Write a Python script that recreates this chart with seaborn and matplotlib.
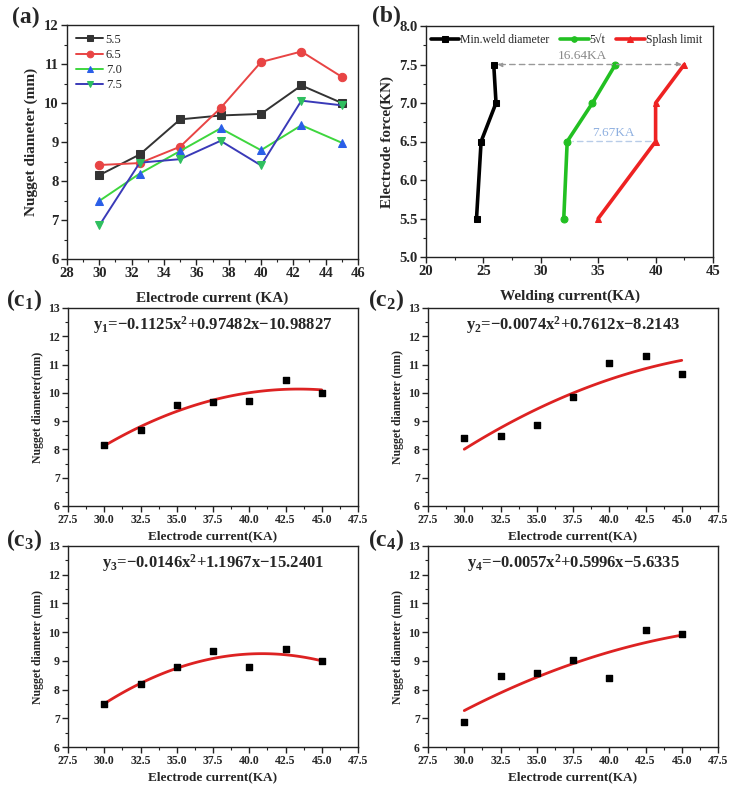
import numpy as np
import pandas as pd
import matplotlib
matplotlib.use('Agg')
import matplotlib.pyplot as plt
from matplotlib.ticker import MultipleLocator, FormatStrFormatter
import seaborn as sns

# Panel (a) / (c): nugget diameter vs electrode current for each electrode force
current = [30, 32.5, 35, 37.5, 40, 42.5, 45]
force_labels = ['5.5', '6.5', '7.0', '7.5']
d_55 = [8.15, 8.68, 9.58, 9.68, 9.72, 10.45, 10.00]
d_65 = [8.41, 8.46, 8.88, 9.87, 11.05, 11.32, 10.67]
d_70 = [7.49, 8.19, 8.77, 9.35, 8.79, 9.43, 8.98]
d_75 = [6.86, 8.47, 8.56, 9.03, 8.40, 10.06, 9.94]

# Panel (b): weldability lobe
force_b = [5.5, 6.5, 7.0, 7.5]
min_weld = [24.4, 24.8, 26.1, 25.9]
five_sqrt_t = [32.0, 32.3, 34.5, 36.5]
splash = [35.0, 40.0, 40.0, 42.5]

equations = [
    r'y$_{1}$=−0.1125x$^{2}$+0.97482x−10.98827',
    r'y$_{2}$=−0.0074x$^{2}$+0.7612x−8.2143',
    r'y$_{3}$=−0.0146x$^{2}$+1.1967x−15.2401',
    r'y$_{4}$=−0.0057x$^{2}$+0.5996x−5.6335',
]
c_ylabels = ['Nugget diameter(mm)', 'Nugget diameter (mm)',
             'Nugget diameter (mm)', 'Nugget diameter (mm)']

sns.set_theme(style='ticks')
plt.rcParams['font.family'] = ['Liberation Serif', 'DejaVu Serif']
plt.rcParams['mathtext.fontset'] = 'custom'
plt.rcParams['mathtext.rm'] = 'Liberation Serif:bold'
plt.rcParams['mathtext.it'] = 'Liberation Serif:bold'
plt.rcParams['mathtext.bf'] = 'Liberation Serif:bold'
plt.rcParams['axes.edgecolor'] = '#222222'
plt.rcParams['axes.linewidth'] = 1.0

W, H = 731, 791
fig = plt.figure(figsize=(W / 100, H / 100), dpi=100)
fig.patch.set_facecolor('white')


def box(l, t, r, b):
    return [l / W, 1 - b / H, (r - l) / W, (b - t) / H]


def style_ticks(ax, size=9.5):
    ax.tick_params(which='major', direction='out', length=4, width=1,
                   labelsize=size, color='#222222', pad=2)
    ax.tick_params(which='minor', direction='out', length=2, width=0.8, color='#222222')
    for lab in ax.get_xticklabels() + ax.get_yticklabels():
        lab.set_fontweight('bold')


# ---- (a) ----
ax = fig.add_axes(box(67, 25, 358, 259))
series = [
    (d_55, '#333333', 's', '#333333'),
    (d_65, '#e84444', 'o', '#e84444'),
    (d_70, '#3ed63e', '^', '#2a5ee8'),
    (d_75, '#3a3ab8', 'v', '#2fbf5f'),
]
for lab, (vals, lc, mk, mc) in zip(force_labels, series):
    df = pd.DataFrame({'x': current, 'y': vals})
    sns.lineplot(data=df, x='x', y='y', ax=ax, color=lc, marker=mk,
                 markersize=6, markerfacecolor=mc, markeredgecolor=mc,
                 linewidth=1.4, label=lab)
ax.set_xlim(28, 46)
ax.set_ylim(6, 12)
ax.xaxis.set_major_locator(MultipleLocator(2))
ax.xaxis.set_minor_locator(MultipleLocator(1))
ax.yaxis.set_major_locator(MultipleLocator(1))
ax.yaxis.set_minor_locator(MultipleLocator(0.5))
ax.set_xlabel('Electrode current (KA)', fontsize=11, fontweight='bold', labelpad=8)
ax.set_ylabel('Nugget diameter (mm)', fontsize=11, fontweight='bold', labelpad=4)
style_ticks(ax, 10.5)
ax.legend(loc='upper left', frameon=False, fontsize=9, handlelength=2.2,
          labelspacing=0.25, handletextpad=0.2, borderaxespad=0.3, markerscale=0.8)
fig.text(12 / W, 1 - 17 / H, '(a)', fontsize=17, fontweight='bold', va='center')

# ---- (b) ----
ax = fig.add_axes(box(426, 26, 713, 257))
b_series = [
    ('Min.weld diameter', min_weld, 'black', 's'),
    ('5√t', five_sqrt_t, '#22c022', 'o'),
    ('Splash limit', splash, '#ee2222', '^'),
]
for lab, vals, c, mk in b_series:
    df = pd.DataFrame({'force': force_b, 'current': vals})
    sns.lineplot(data=df, x='current', y='force', orient='y', sort=True,
                 ax=ax, color=c, marker=mk, markersize=5, markeredgecolor=c,
                 linewidth=2.6, label=lab)
ax.set_xlim(20, 45)
ax.set_ylim(5.0, 8.0)
ax.xaxis.set_major_locator(MultipleLocator(5))
ax.xaxis.set_minor_locator(MultipleLocator(2.5))
ax.yaxis.set_major_locator(MultipleLocator(0.5))
ax.yaxis.set_minor_locator(MultipleLocator(0.25))
ax.yaxis.set_major_formatter(FormatStrFormatter('%.1f'))
ax.set_xlabel('Welding current(KA)', fontsize=11, fontweight='bold', labelpad=8)
ax.set_ylabel('Electrode force(KN)', fontsize=11, fontweight='bold', labelpad=4)
style_ticks(ax, 10.5)
ax.legend(loc='upper left', ncol=3, frameon=False, fontsize=8.5, handlelength=2.4,
          columnspacing=0.9, handletextpad=0.1, borderaxespad=0.25,
          bbox_to_anchor=(-0.01, 1.0), markerscale=0.8)
ax.annotate('', xy=(26.2, 7.5), xytext=(42.3, 7.5),
            arrowprops=dict(arrowstyle='<|-|>', linestyle=(0, (4, 3)), color='#999999',
                            lw=1.0, mutation_scale=7, shrinkA=0, shrinkB=0))
ax.text(33.6, 7.53, '16.64KA', color='#888888', fontsize=9.5, ha='center', va='bottom')
ax.annotate('', xy=(32.8, 6.5), xytext=(39.6, 6.5),
            arrowprops=dict(arrowstyle='-', linestyle=(0, (4, 3)), color='#b8cce8',
                            lw=1.0, shrinkA=0, shrinkB=0))
ax.text(36.3, 6.53, '7.67KA', color='#8fb0e0', fontsize=9.5, ha='center', va='bottom')
fig.text(372 / W, 1 - 16 / H, '(b)', fontsize=17, fontweight='bold', va='center')

# ---- (c1)-(c4) ----
c_boxes = [(68, 308, 358, 506), (428, 308, 718, 506),
           (68, 546, 358, 747), (428, 546, 718, 747)]
c_labels = [(6, 300), (368, 300), (6, 540), (368, 540)]
c_data = [d_55, d_65, d_70, d_75]
for i, (vals, bx) in enumerate(zip(c_data, c_boxes)):
    ax = fig.add_axes(box(*bx))
    df = pd.DataFrame({'x': current, 'y': vals})
    sns.regplot(data=df, x='x', y='y', order=2, ci=None, ax=ax, marker='s',
                scatter_kws=dict(color='black', s=16, alpha=1, zorder=3),
                line_kws=dict(color='#dd2222', linewidth=2))
    ax.set_xlim(27.5, 47.5)
    ax.set_ylim(6, 13)
    ax.xaxis.set_major_locator(MultipleLocator(2.5))
    ax.xaxis.set_minor_locator(MultipleLocator(1.25))
    ax.yaxis.set_major_locator(MultipleLocator(1))
    ax.yaxis.set_minor_locator(MultipleLocator(0.5))
    ax.xaxis.set_major_formatter(FormatStrFormatter('%.1f'))
    ax.set_xlabel('Electrode current(KA)', fontsize=9.5, fontweight='bold', labelpad=3)
    ax.set_ylabel(c_ylabels[i], fontsize=8.5, fontweight='bold', labelpad=3)
    style_ticks(ax, 8.5)
    ax.text(0.5, 0.915, equations[i], transform=ax.transAxes, ha='center',
            va='center', fontsize=12, fontweight='bold')
    lx, ly = c_labels[i]
    fig.text(lx / W, 1 - ly / H, '(c$_{%d}$)' % (i + 1), fontsize=17,
             fontweight='bold', va='center')

fig.savefig('out.png', dpi=100, facecolor='white')
